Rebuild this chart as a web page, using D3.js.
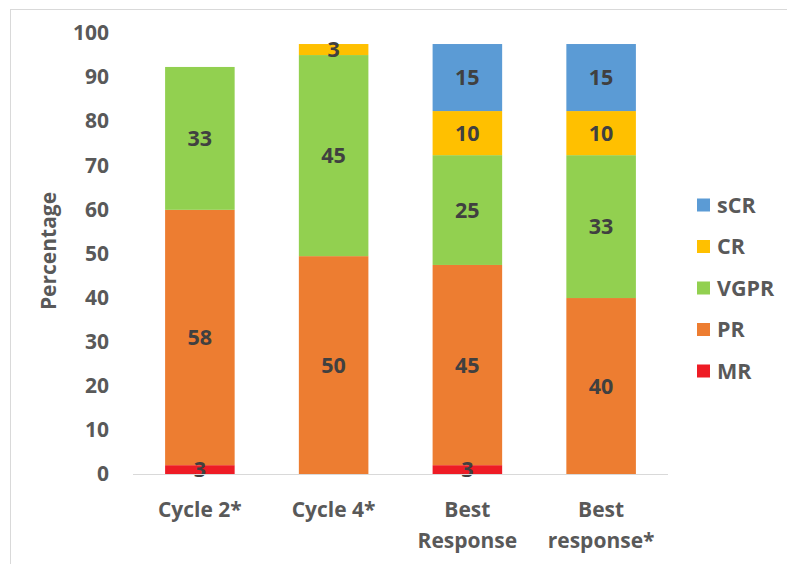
<!DOCTYPE html>
<html><head><meta charset="utf-8">
<script src="https://cdn.jsdelivr.net/npm/d3@7"></script>
<style>body{margin:0;background:#fff;} svg{display:block;}</style>
</head><body>
<svg id="chart" width="787" height="564"></svg>
<script>
// ---- data ----
const categories = [["Cycle 2*"], ["Cycle 4*"], ["Best", "Response"], ["Best", "response*"]];
const seriesNames = ["MR", "PR", "VGPR", "CR", "sCR"];
const MR   = [2.0, 0, 2.0, 0];
const PR   = [57.9, 49.4, 45.4, 39.9];
const VGPR = [32.4, 45.6, 24.9, 32.4];
const CR   = [0, 2.5, 10.0, 10.0];
const sCR  = [0, 0, 15.2, 15.2];
const MRLabels   = ["3", "", "3", ""];
const PRLabels   = ["58", "50", "45", "40"];
const VGPRLabels = ["33", "45", "25", "33"];
const CRLabels   = ["", "3", "10", "10"];
const sCRLabels  = ["", "", "15", "15"];
const yTicks = [0, 10, 20, 30, 40, 50, 60, 70, 80, 90, 100];
const colors = {MR: "#ee1c25", PR: "#ed7d31", VGPR: "#92d050", CR: "#ffc000", sCR: "#5b9bd5"};

const values = {MR, PR, VGPR, CR, sCR};
const labels = {MR: MRLabels, PR: PRLabels, VGPR: VGPRLabels, CR: CRLabels, sCR: sCRLabels};

const rows = categories.map((c, i) => {
  const r = {key: c.join(" "), idx: i};
  seriesNames.forEach(s => r[s] = values[s][i]);
  return r;
});

const svg = d3.select("#chart");
const FONT = "'Open Sans', sans-serif";

// frame
svg.append("rect").attr("x", 10.5).attr("y", 9.5).attr("width", 900).attr("height", 700)
  .attr("fill", "none").attr("stroke", "#d9d9d9");

const x = d3.scaleBand().domain(rows.map(r => r.key)).range([133, 668]).paddingInner(0.48).paddingOuter(0.24);
const y = d3.scaleLinear().domain([0, 100]).range([474, 33]);

const stack = d3.stack().keys(seriesNames)(rows);

const g = svg.append("g");
stack.forEach(layer => {
  const s = layer.key;
  g.append("g").selectAll("rect").data(layer).join("rect")
    .attr("x", d => x(d.data.key))
    .attr("width", x.bandwidth())
    .attr("y", d => y(d[1]))
    .attr("height", d => y(d[0]) - y(d[1]))
    .attr("fill", colors[s]);
});

// axis line
svg.append("line").attr("x1", 133).attr("x2", 668).attr("y1", y(0) + 0.5).attr("y2", y(0) + 0.5)
  .attr("stroke", "#d9d9d9").attr("stroke-width", 1);

// data labels
stack.forEach(layer => {
  const s = layer.key;
  g.append("g").selectAll("text").data(layer.filter((d, i) => labels[s][d.data.idx] !== "")).join("text")
    .attr("x", d => x(d.data.key) + x.bandwidth() / 2)
    .attr("y", d => (y(d[0]) + y(d[1])) / 2)
    .attr("dy", "0.36em")
    .attr("text-anchor", "middle")
    .attr("font-family", FONT).attr("font-weight", 700).attr("font-size", 21.5)
    .attr("fill", "#404040")
    .text(d => labels[s][d.data.idx]);
});

// y axis
const yAxis = d3.axisLeft(y).tickValues(yTicks).tickSize(0).tickPadding(0);
const ya = svg.append("g").attr("transform", "translate(109,0)").call(yAxis);
ya.select(".domain").remove();
ya.selectAll("text").attr("font-family", FONT).attr("font-weight", 700).attr("font-size", 21)
  .attr("fill", "#595959");

// y title
svg.append("text").attr("transform", "translate(48,251) rotate(-90)")
  .attr("text-anchor", "middle").attr("dy", "0.36em")
  .attr("font-family", FONT).attr("font-weight", 700).attr("font-size", 21)
  .attr("fill", "#595959").text("Percentage");

// x axis labels
const xa = svg.append("g");
rows.forEach((r, i) => {
  const t = xa.append("text").attr("x", x(r.key) + x.bandwidth() / 2).attr("y", 509)
    .attr("text-anchor", "middle").attr("font-family", FONT).attr("font-weight", 700)
    .attr("font-size", 21).attr("fill", "#595959");
  categories[i].forEach((line, j) => {
    t.append("tspan").attr("x", x(r.key) + x.bandwidth() / 2).attr("dy", j === 0 ? "0.36em" : 31).text(line);
  });
});

// legend
const legendOrder = ["sCR", "CR", "VGPR", "PR", "MR"];
const lg = svg.append("g").attr("transform", "translate(697,205)");
legendOrder.forEach((s, i) => {
  const row = lg.append("g").attr("transform", `translate(0,${i * 41.5})`);
  row.append("rect").attr("x", 0).attr("y", -6.5).attr("width", 13).attr("height", 13).attr("fill", colors[s]);
  row.append("text").attr("x", 20).attr("y", 0).attr("dy", "0.36em")
    .attr("font-family", FONT).attr("font-weight", 700).attr("font-size", 21.5)
    .attr("fill", "#595959").text(s);
});
</script>
</body></html>
